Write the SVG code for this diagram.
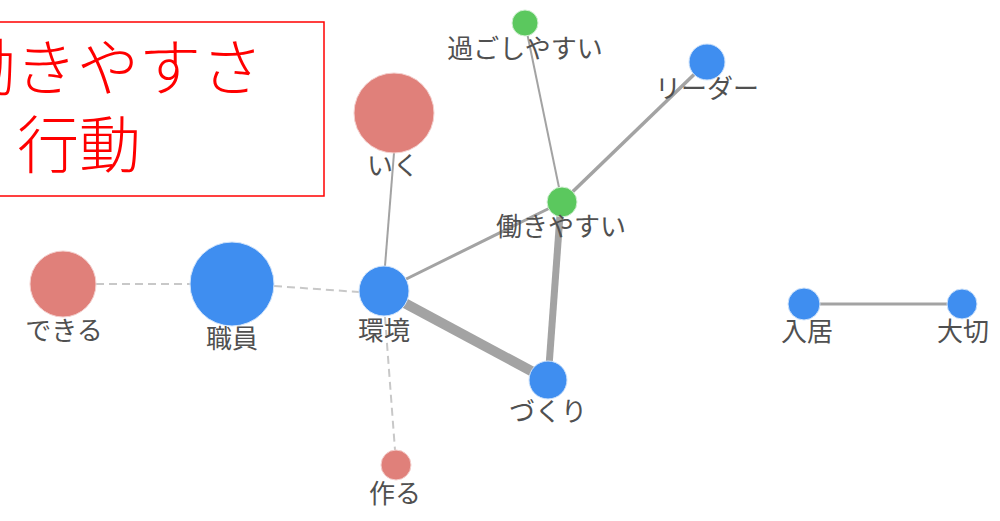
<svg xmlns="http://www.w3.org/2000/svg" width="1000" height="521" viewBox="0 0 1000 521">
<style>
.lbl{font-family:"Noto Sans CJK JP","Noto Sans",sans-serif;font-size:26px;fill:#505050;text-anchor:middle}
.e{stroke:#a3a3a3;fill:none;stroke-linecap:butt}
.d{stroke:#c8c8c8;stroke-width:2;stroke-dasharray:8 5;fill:none}
.blue{fill:#3f8ef0;stroke:#cfe3fb;stroke-width:1}
.red{fill:#e0807a;stroke:#f4cfcd;stroke-width:1}
.green{fill:#5bc85e;stroke:#d3f0d4;stroke-width:1}
.note{font-family:"Noto Sans CJK JP",sans-serif;font-size:62px;fill:#ff0000;font-weight:300}
</style>
<rect width="1000" height="521" fill="#ffffff"/>
<g id="note">
<rect x="-5" y="22" width="329" height="174" fill="none" stroke="#ff0000" stroke-width="1.5"/>
<text class="note" x="-47" y="91">働きやすさ</text>
<text class="note" x="17" y="168">行動</text>
</g>
<g id="connectors">
<line class="d" x1="96" y1="284" x2="190" y2="284"/>
<line class="d" x1="274" y1="286" x2="359" y2="292"/>
<line class="d" x1="385" y1="317" x2="395" y2="450"/>
<line class="e" stroke-width="2" x1="394" y1="153" x2="385" y2="266"/>
<line class="e" stroke-width="2" x1="525" y1="23" x2="562" y2="202"/>
<line class="e" stroke-width="3.5" x1="707" y1="62" x2="562" y2="202"/>
<line class="e" stroke-width="3" x1="384" y1="290" x2="562" y2="202"/>
<line class="e" stroke-width="7" x1="560" y1="215" x2="548" y2="380"/>
<line class="e" stroke-width="10" x1="384" y1="292" x2="548" y2="380"/>
<line class="e" stroke-width="3" stroke="#c4c4c4" x1="804" y1="304" x2="962" y2="304"/>
</g>
<g id="node-sugoshiyasui"><circle class="green" cx="525" cy="23" r="13"/><text class="lbl" x="525" y="58">過ごしやすい</text></g>
<g id="node-leader"><circle class="blue" cx="707" cy="62" r="18"/><text class="lbl" x="707" y="98">リーダー</text></g>
<g id="node-iku"><circle class="red" cx="394" cy="113" r="40"/><text class="lbl" x="393" y="175">いく</text></g>
<g id="node-hatarakiyasui"><circle class="green" cx="562" cy="202" r="15"/><text class="lbl" x="561" y="236">働きやすい</text></g>
<g id="node-dekiru"><circle class="red" cx="63" cy="284" r="33"/><text class="lbl" x="64" y="340">できる</text></g>
<g id="node-shokuin"><circle class="blue" cx="232" cy="284" r="42"/><text class="lbl" x="232" y="348">職員</text></g>
<g id="node-kankyo"><circle class="blue" cx="384" cy="291" r="25"/><text class="lbl" x="384" y="340">環境</text></g>
<g id="node-tsukuru"><circle class="red" cx="396" cy="465" r="15"/><text class="lbl" x="395" y="503">作る</text></g>
<g id="node-zukuri"><circle class="blue" cx="548" cy="380" r="19"/><text class="lbl" x="548" y="421">づくり</text></g>
<g id="node-nyukyo"><circle class="blue" cx="804" cy="304" r="16"/><text class="lbl" x="807" y="341">入居</text></g>
<g id="node-taisetsu"><circle class="blue" cx="962" cy="304" r="15"/><text class="lbl" x="963" y="341">大切</text></g>
</svg>
